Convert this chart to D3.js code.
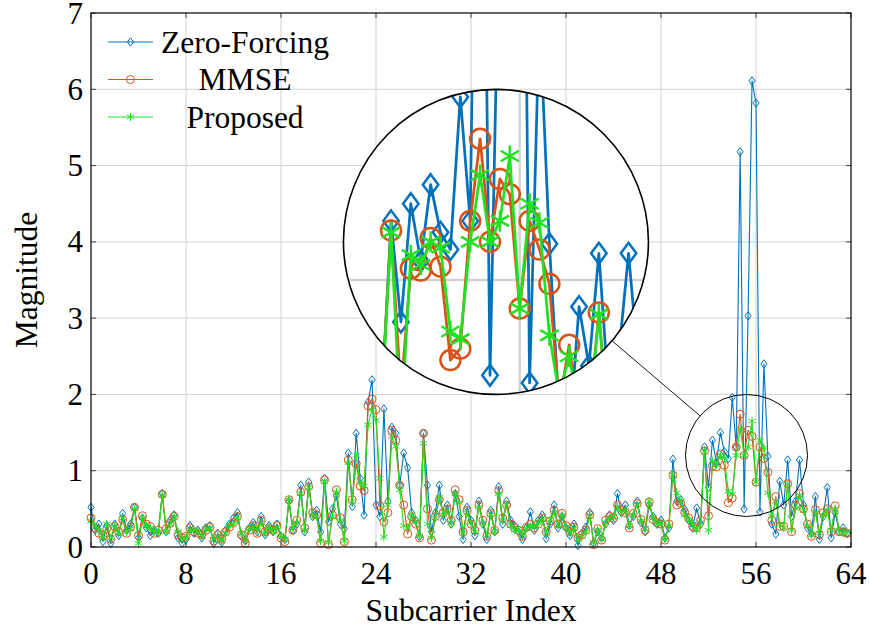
<!DOCTYPE html>
<html>
<head>
<meta charset="utf-8">
<script src="https://cdn.jsdelivr.net/npm/d3@7/dist/d3.min.js"></script>
<style>
  body { margin: 0; background: #fff; }
  text { font-family: "Liberation Serif", "Times New Roman", serif; fill: #000; }
</style>
</head>
<body>
<svg id="chart" width="870" height="630"></svg>
<script>
// Axis ticks
const xTicks = [0, 8, 16, 24, 32, 40, 48, 56, 64];
const yTicks = [0, 1, 2, 3, 4, 5, 6, 7];

// Subcarrier magnitudes, three samples per subcarrier index
const zeroForcing = [
  0.52,0.22,0.30, 0.07,0.28,0.05, 0.30,0.15,0.44, 0.22,0.30,0.52, 0.12,0.38,0.25, 0.15,0.22,0.18, 0.70,0.20,0.35, 0.42,0.12,0.05,
  0.10,0.28,0.18, 0.22,0.12,0.25, 0.28,0.05,0.18, 0.06,0.22,0.30, 0.38,0.45,0.14, 0.08,0.25,0.32, 0.20,0.40,0.16, 0.28,0.20,0.30,
  0.14,0.10,0.60, 0.22,0.30,0.81, 0.20,0.85,0.40, 0.48,0.20,0.90, 0.33,0.50,0.67, 0.30,0.24,1.23, 0.53,1.49,0.90, 0.42,1.90,2.19,
  0.55,0.40,1.81, 0.60,1.57,1.49, 0.81,1.23,1.04, 0.45,0.35,0.14, 1.49,0.81,0.20, 0.45,0.81,0.35, 0.55,0.30,0.70, 0.40,0.10,0.52,
  0.35,0.15,0.60, 0.30,0.10,0.48, 0.20,0.79,0.30, 0.60,0.35,0.28, 0.20,0.10,0.25, 0.46,0.22,0.35, 0.42,0.11,0.30, 0.55,0.25,0.40,
  0.25,0.15,0.30, 0.02,0.18,0.26, 0.45,0.05,0.20, 0.12,0.30,0.42, 0.35,0.70,0.45, 0.55,0.28,0.40, 0.60,0.32,0.20, 0.55,0.40,0.30,
  0.35,0.12,0.25, 1.15,0.60,0.62, 0.49,0.35,0.25, 0.51,0.30,1.31, 0.78,1.40,1.10, 1.50,1.25,1.16, 1.96,1.31,5.18, 0.50,3.03,6.11,
  5.82,0.46,2.40, 1.19,0.30,0.17, 0.86,0.55,1.14, 0.40,0.60,1.14, 0.55,0.25,0.18, 0.66,0.10,0.40, 0.78,0.12,0.45, 0.20,0.25,0.18
];
const mmse = [
  0.38,0.25,0.18, 0.15,0.24,0.10, 0.27,0.20,0.36, 0.18,0.26,0.52, 0.15,0.41,0.30, 0.27,0.18,0.22, 0.69,0.24,0.31, 0.40,0.16,0.12,
  0.14,0.25,0.20, 0.18,0.16,0.22, 0.26,0.08,0.16, 0.10,0.20,0.26, 0.32,0.40,0.16, 0.05,0.22,0.28, 0.18,0.35,0.20, 0.24,0.22,0.28,
  0.12,0.07,0.62, 0.22,0.35,0.72, 0.25,0.79,0.45, 0.42,0.05,0.88, 0.03,0.42,0.75, 0.38,0.07,1.14, 0.62,1.09,0.80, 0.74,1.85,1.94,
  1.80,0.54,0.33, 0.45,1.53,1.40, 0.81,0.55,0.17, 0.40,0.30,0.12, 1.49,0.50,0.09, 0.40,0.62,0.45, 0.50,0.35,0.75, 0.62,0.20,0.48,
  0.30,0.22,0.55, 0.35,0.14,0.44, 0.22,0.74,0.38, 0.55,0.30,0.25, 0.22,0.14,0.26, 0.30,0.25,0.30, 0.38,0.20,0.34, 0.48,0.30,0.44,
  0.28,0.20,0.26, 0.12,0.16,0.22, 0.42,0.03,0.24, 0.09,0.35,0.40, 0.38,0.55,0.48, 0.45,0.25,0.44, 0.57,0.36,0.22, 0.59,0.36,0.32,
  0.30,0.09,0.30, 0.94,0.55,0.57, 0.45,0.38,0.27, 0.25,0.35,1.26, 0.41,1.06,1.05, 1.22,1.07,0.58, 0.64,1.31,1.74, 1.20,1.53,1.45,
  0.85,1.31,1.16, 0.98,0.35,0.66, 0.27,0.27,0.83, 0.20,0.55,0.70, 0.50,0.30,0.14, 0.49,0.16,0.45, 0.50,0.20,0.54, 0.20,0.20,0.18
];
const proposed = [
  0.34,0.28,0.22, 0.12,0.30,0.12, 0.28,0.18,0.38, 0.20,0.24,0.50, 0.05,0.38,0.28, 0.25,0.20,0.20, 0.68,0.20,0.30, 0.40,0.20,0.10,
  0.12,0.22,0.22, 0.20,0.14,0.24, 0.24,0.10,0.14, 0.08,0.18,0.28, 0.30,0.38,0.18, 0.08,0.24,0.26, 0.22,0.32,0.18, 0.26,0.20,0.26,
  0.15,0.10,0.62, 0.24,0.32,0.70, 0.22,0.78,0.42, 0.40,0.08,0.85, 0.06,0.40,0.72, 0.35,0.08,1.10, 0.60,1.20,0.84, 0.80,1.60,1.80,
  1.66,0.90,0.13, 0.55,1.45,1.32, 0.75,0.28,0.25, 0.42,0.33,0.15, 1.36,0.30,0.12, 0.38,0.65,0.42, 0.48,0.32,0.70, 0.58,0.18,0.45,
  0.32,0.20,0.52, 0.32,0.16,0.42, 0.20,0.70,0.35, 0.55,0.28,0.22, 0.24,0.16,0.24, 0.28,0.26,0.32, 0.36,0.18,0.36, 0.45,0.28,0.42,
  0.26,0.18,0.24, 0.10,0.14,0.20, 0.40,0.06,0.22, 0.10,0.32,0.38, 0.40,0.52,0.46, 0.48,0.28,0.42, 0.55,0.34,0.24, 0.60,0.38,0.30,
  0.32,0.10,0.28, 0.95,0.71,0.60, 0.42,0.36,0.30, 0.22,0.32,1.25, 0.22,1.13,1.08, 1.20,1.17,0.73, 0.69,1.20,1.55, 1.20,1.31,1.65,
  0.85,1.40,1.30, 0.71,0.40,0.60, 0.30,0.25,0.82, 0.22,0.50,0.68, 0.48,0.28,0.16, 0.45,0.18,0.42, 0.48,0.22,0.50, 0.22,0.18,0.20
];
const seriesNames = ["Zero-Forcing", "MMSE", "Proposed"];
const seriesColors = ["#0072BD", "#D95319", "#22E022"];
const seriesMarks = ["diamond", "circle", "asterisk"];

// Magnifier: lens centre in data units, inset centre in data units
const lensCenter = [55.2, 1.2];
const insetCenter = [34.1, 4.0];
const lensRadius = 61;
const magnification = 2.5;

const svg = d3.select("#chart");
const x = d3.scaleLinear().domain([0, 64]).range([91, 851]);
const y = d3.scaleLinear().domain([0, 7]).range([547, 13]);
const samplesPerIndex = 3;
const index = d3.range(zeroForcing.length).map(i => i / samplesPerIndex);

const markPath = { diamond: "M0,-4.2L3.1,0L0,4.2L-3.1,0Z", circle: "", asterisk: "" };
(function () {
  const p = d3.path(); p.arc(0, 0, 4, 0, 2 * Math.PI); p.closePath(); markPath.circle = p.toString();
  const r = 4.2, u = r * Math.cos(Math.PI / 6), t = r / 2;
  markPath.asterisk = `M0,${-r}L0,${r}M${-u},${-t}L${u},${t}M${-u},${t}L${u},${-t}`;
})();

const defs = svg.append("defs");
const content = defs.append("g").attr("id", "plotContent");

// grid
content.append("g").selectAll("line").data(xTicks.slice(1, -1)).join("line")
  .attr("x1", d => x(d)).attr("x2", d => x(d)).attr("y1", y(0)).attr("y2", y(7))
  .attr("stroke", "#d3d3d3").attr("stroke-width", 1);
content.append("g").selectAll("line").data(yTicks.slice(1, -1)).join("line")
  .attr("y1", d => y(d)).attr("y2", d => y(d)).attr("x1", x(0)).attr("x2", x(64))
  .attr("stroke", "#d3d3d3").attr("stroke-width", 1);

// series: line plus markers at every sample
const allSeries = [zeroForcing, mmse, proposed];
const line = d3.line().x((d, i) => x(index[i])).y(d => y(d));
allSeries.forEach((vals, s) => {
  const g = content.append("g");
  g.append("path").attr("d", line(vals)).attr("fill", "none")
    .attr("stroke", seriesColors[s]).attr("stroke-width", 1.1).attr("stroke-linejoin", "round");
  g.selectAll("path.mark").data(vals).join("path").attr("class", "mark")
    .attr("d", markPath[seriesMarks[s]])
    .attr("transform", (d, i) => `translate(${x(index[i])},${y(d)})`)
    .attr("fill", "none").attr("stroke", seriesColors[s]).attr("stroke-width", 1);
});

svg.append("use").attr("href", "#plotContent");

// axis frame and tick marks
const axes = svg.append("g");
const tickLen = 5;
xTicks.forEach(t => {
  axes.append("line").attr("x1", x(t)).attr("x2", x(t)).attr("y1", y(0)).attr("y2", y(0) - tickLen).attr("stroke", "#444");
  axes.append("line").attr("x1", x(t)).attr("x2", x(t)).attr("y1", y(7)).attr("y2", y(7) + tickLen).attr("stroke", "#444");
});
yTicks.forEach(t => {
  axes.append("line").attr("y1", y(t)).attr("y2", y(t)).attr("x1", x(0)).attr("x2", x(0) + tickLen).attr("stroke", "#444");
  axes.append("line").attr("y1", y(t)).attr("y2", y(t)).attr("x1", x(64)).attr("x2", x(64) - tickLen).attr("stroke", "#444");
});
axes.append("rect").attr("x", x(0)).attr("y", y(7)).attr("width", x(64) - x(0)).attr("height", y(0) - y(7))
  .attr("fill", "none").attr("stroke", "#000").attr("stroke-width", 1.2);

axes.selectAll("text.xt").data(xTicks).join("text").attr("class", "xt")
  .attr("x", d => x(d)).attr("y", 584).attr("text-anchor", "middle").attr("font-size", 31).text(d => d);
axes.selectAll("text.yt").data(yTicks).join("text").attr("class", "yt")
  .attr("x", 83).attr("y", d => y(d) + 10.5).attr("text-anchor", "end").attr("font-size", 31).text(d => d);
axes.append("text").attr("x", x(32)).attr("y", 621).attr("text-anchor", "middle").attr("font-size", 31.5).text("Subcarrier Index");
axes.append("text").attr("transform", `translate(37,${y(3.5)}) rotate(-90)`).attr("text-anchor", "middle")
  .attr("font-size", 31.5).text("Magnitude");

// legend
const legend = svg.append("g");
seriesNames.forEach((name, s) => {
  const ly = 42 + s * 37.5;
  legend.append("line").attr("x1", 108).attr("x2", 153).attr("y1", ly).attr("y2", ly)
    .attr("stroke", seriesColors[s]).attr("stroke-width", 1.1);
  legend.append("path").attr("d", markPath[seriesMarks[s]]).attr("transform", `translate(130.5,${ly})`)
    .attr("fill", "none").attr("stroke", seriesColors[s]).attr("stroke-width", 1);
  legend.append("text").attr("x", 245).attr("y", ly + 10.5).attr("text-anchor", "middle").attr("font-size", 31.5).text(name);
});

// magnifier lens, connector and inset
const lc = [x(lensCenter[0]), y(lensCenter[1])];
const ic = [x(insetCenter[0]), y(insetCenter[1])];
const insetRadius = lensRadius * magnification;
const dx = ic[0] - lc[0], dy = ic[1] - lc[1], dist = Math.hypot(dx, dy);
svg.append("circle").attr("cx", lc[0]).attr("cy", lc[1]).attr("r", lensRadius)
  .attr("fill", "none").attr("stroke", "#000").attr("stroke-width", 1);
svg.append("line")
  .attr("x1", lc[0] + dx / dist * lensRadius).attr("y1", lc[1] + dy / dist * lensRadius)
  .attr("x2", ic[0] - dx / dist * insetRadius).attr("y2", ic[1] - dy / dist * insetRadius)
  .attr("stroke", "#000").attr("stroke-width", 0.9);

defs.append("clipPath").attr("id", "insetClip").append("circle")
  .attr("cx", ic[0]).attr("cy", ic[1]).attr("r", insetRadius);
svg.append("circle").attr("cx", ic[0]).attr("cy", ic[1]).attr("r", insetRadius).attr("fill", "#fff");
svg.append("g").attr("clip-path", "url(#insetClip)").append("use").attr("href", "#plotContent")
  .attr("transform", `translate(${ic[0]},${ic[1]}) scale(${magnification}) translate(${-lc[0]},${-lc[1]})`);
svg.append("circle").attr("cx", ic[0]).attr("cy", ic[1]).attr("r", insetRadius)
  .attr("fill", "none").attr("stroke", "#000").attr("stroke-width", 1.6);
</script>
</body>
</html>
